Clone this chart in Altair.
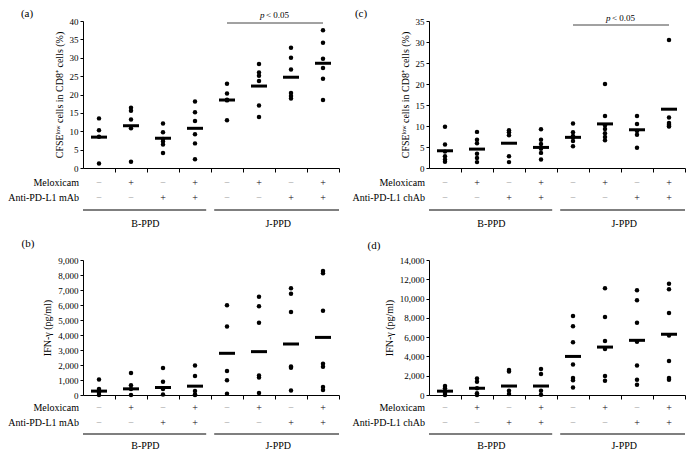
import altair as alt
import pandas as pd

FONT = "Liberation Serif"

cats = [1, 2, 3, 4, 5, 6, 7, 8]
meloxicam = ["−", "+", "−", "+", "−", "+", "−", "+"]
anti_pdl1 = ["−", "−", "+", "+", "−", "−", "+", "+"]
groups = ["B-PPD", "J-PPD"]
group_start = [0.5, 4.6]
group_end = [4.35, 8.5]
group_mid = [2.45, 6.6]

# (a) CFSE-low in CD8+ (%), mAb
a_values = [
    [13.5, 10.3, 8.5, 1.2],
    [16.4, 15.6, 13.2, 10.8, 1.7],
    [12.1, 9.7, 7.9, 7.2, 6.4, 4.1],
    [18.1, 15.2, 12.8, 9.2, 6.7, 2.4],
    [22.9, 20.3, 18.6, 18.4, 13.0],
    [28.3, 26.0, 25.1, 23.7, 17.0, 13.9],
    [32.7, 30.0, 26.8, 20.4, 19.6, 18.9],
    [37.5, 34.1, 29.7, 27.2, 24.3, 18.5],
]
a_means = [8.4, 11.5, 8.1, 10.8, 18.5, 22.3, 24.7, 28.5]

# (c) CFSE-low in CD8+ (%), chAb
c_values = [
    [9.8, 5.6, 3.9, 2.8, 2.0, 1.5],
    [8.6, 6.7, 5.9, 3.4, 2.4, 1.4],
    [9.0, 8.5, 7.8, 2.8, 1.4],
    [9.2, 6.7, 5.7, 4.6, 3.6, 2.0],
    [10.6, 8.5, 7.6, 7.2, 6.4, 5.2],
    [20.0, 12.4, 10.1, 9.3, 8.3, 7.4, 6.6],
    [12.4, 10.5, 8.8, 7.9, 4.8],
    [30.5, 12.0, 10.7, 10.3, 10.0, 9.9],
]
c_means = [4.1, 4.5, 5.9, 4.9, 7.3, 10.5, 9.1, 14.0]

# (b) IFN-gamma (pg/ml), mAb
b_values = [
    [1040, 400, 150, 0],
    [1470, 650, 400, 0],
    [1800, 890, 400, 40],
    [1970, 1260, 260, 40, 0],
    [5990, 4560, 1600, 980, 90],
    [6550, 5920, 4820, 1300, 1170, 130],
    [7110, 6750, 5530, 1900, 1820, 300],
    [8260, 8110, 5620, 2080, 1890, 540, 330],
]
b_means = [260, 410, 500, 590, 2780, 2890, 3400, 3840]

# (d) IFN-gamma (pg/ml), chAb
d_values = [
    [930, 700, 400, 200, 0],
    [1700, 1370, 700, 170, 0],
    [2600, 2430, 430, 100],
    [2700, 2170, 430, 30],
    [8200, 7130, 5470, 3170, 1770, 1530, 770],
    [11070, 8100, 5600, 4770, 1970, 1470],
    [10870, 9830, 7500, 5530, 3070, 1570, 1070],
    [11530, 10970, 8500, 6170, 3530, 1770, 1570],
]
d_means = [400, 700, 930, 930, 4000, 4970, 5670, 6300]

W = 256


def text_at(label, xv, yv, size=10, align="center", style="normal", color="black"):
    return alt.Chart(pd.DataFrame({"t": [label]})).mark_text(
        font=FONT, fontSize=size, align=align, baseline="middle",
        fontStyle=style, color=color
    ).encode(x=alt.value(xv), y=alt.value(yv), text="t:N")


def panel(values, means, ymax, ystep, ytitle, fmt, H, tag, tagpos, antibody,
          offs, pbar=None):
    pts = pd.DataFrame([(i + 1, v) for i, g in enumerate(values) for v in g],
                       columns=["cat", "val"])
    mdf = pd.DataFrame({"cat": cats, "val": means})
    rows = pd.DataFrame({"cat": cats, "melox": meloxicam, "anti": anti_pdl1})
    gdf = pd.DataFrame({"start": group_start, "end": group_end,
                        "mid": group_mid, "name": groups})

    xscale = alt.Scale(domain=[0.5, 8.5], nice=False, zero=False)
    yscale = alt.Scale(domain=[0, ymax], nice=False)
    xaxis = alt.Axis(values=[1.5, 2.5, 3.5, 4.5, 5.5, 6.5, 7.5, 8.5],
                     labels=False, title=None, tickSize=4, grid=False)
    yaxis = alt.Axis(values=list(range(0, ymax + 1, ystep)), format=fmt,
                     title=ytitle, grid=False)

    def X(f):
        return alt.X(f, scale=xscale, axis=xaxis)

    def Y(f):
        return alt.Y(f, scale=yscale, axis=yaxis)

    points = alt.Chart(pts).mark_circle(size=20, color="black", opacity=1).encode(
        x=X("cat:Q"), y=Y("val:Q"))
    bars = alt.Chart(mdf).mark_tick(orient="horizontal", size=16, thickness=3,
                                    color="black", opacity=1).encode(
        x=X("cat:Q"), y=Y("val:Q"))
    layers = [points, bars]

    for field, off in (("melox", offs[0]), ("anti", offs[1])):
        for sym, col in (("+", "#111111"), ("−", "#999999")):
            layers.append(
                alt.Chart(rows).transform_filter(alt.datum[field] == sym).mark_text(
                    font=FONT, fontSize=10, baseline="middle", color=col).encode(
                    x=X("cat:Q"),
                    y=alt.value(H + off),
                    text=f"{field}:N",
                )
            )
    layers.append(text_at("Meloxicam", -4, H + offs[0], align="right"))
    layers.append(text_at(antibody, -4, H + offs[1], align="right"))

    layers.append(alt.Chart(gdf).mark_rule(color="black", strokeWidth=1.2).encode(
        x=X("start:Q"), x2="end:Q", y=alt.value(H + offs[2])))
    layers.append(alt.Chart(gdf).mark_text(font=FONT, fontSize=10, baseline="middle").encode(
        x=X("mid:Q"), y=alt.value(H + offs[3]), text="name:N"))

    layers.append(text_at(tag, tagpos[0], tagpos[1], size=11))

    if pbar is not None:
        ry, ty = pbar
        pdf = pd.DataFrame({"x1": [5], "x2": [8], "mid": [6.5]})
        layers.append(alt.Chart(pdf).mark_rule(color="#444444", strokeWidth=1).encode(
            x=X("x1:Q"), x2="x2:Q", y=alt.value(ry)))
        layers.append(alt.Chart(pdf).mark_text(font=FONT, fontSize=9, fontStyle="italic",
                                               align="left", baseline="middle", dx=-15).encode(
            x=X("mid:Q"), y=alt.value(ty), text=alt.value("p")))
        layers.append(alt.Chart(pdf).mark_text(font=FONT, fontSize=9,
                                               align="left", baseline="middle", dx=-9).encode(
            x=X("mid:Q"), y=alt.value(ty), text=alt.value("< 0.05")))

    return alt.layer(*layers).properties(width=W, height=H)


H1 = 147
H2 = 135
top_offs = (15, 30, 42, 56)
bot_offs = (13, 28, 39, 51)

cfse_title = "CFSEˡᵒʷ cells in CD8⁺ cells (%)"
ifn_title = "IFN-γ (pg/ml)"

pa = panel(a_values, a_means, 40, 5, cfse_title, "d", H1, "(a)", (-56, -7),
           "Anti-PD-L1 mAb", top_offs, pbar=(2, -6))
pc = panel(c_values, c_means, 35, 5, cfse_title, "d", H1, "(c)", (-68, -7),
           "Anti-PD-L1 chAb", top_offs, pbar=(4, -3))
pb = panel(b_values, b_means, 9000, 1000, ifn_title, ",d", H2, "(b)", (-55, -16),
           "Anti-PD-L1 mAb", bot_offs)
pd_ = panel(d_values, d_means, 14000, 2000, ifn_title, ",d", H2, "(d)", (-55, -14),
            "Anti-PD-L1 chAb", bot_offs)

chart = alt.vconcat(
    alt.hconcat(pa, pc, spacing=12),
    alt.hconcat(pb, pd_, spacing=12),
    spacing=9,
).properties(padding=0, background="white").configure_view(stroke=None).configure_axis(
    labelFont=FONT, titleFont=FONT, labelFontSize=9, titleFontSize=10,
    titleFontWeight="normal", labelColor="black", titleColor="black",
    domainColor="black", tickColor="black", tickSize=3, labelPadding=2,
    titlePadding=5, domainWidth=1, tickWidth=1,
)

chart.save("out.html", embed_options={"renderer": "svg", "actions": False})
